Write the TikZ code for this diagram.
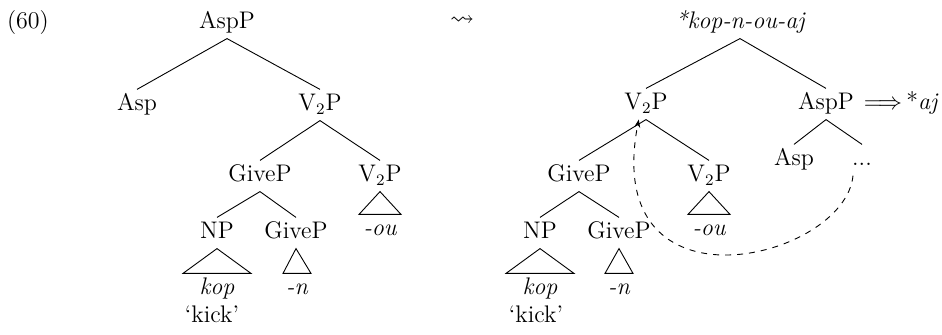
\documentclass[tikz,border=0pt]{standalone}
\usepackage{amssymb}
\usetikzlibrary{arrows.meta,positioning,calc}

\begin{document}
\begin{tikzpicture}[x=0.5pt,y=-0.5pt,
  cat/.style={inner sep=0pt,outer sep=2.5pt,text height=8.2pt,text depth=2.4pt,font=\fontsize{12}{14}\selectfont},
  lf/.style={cat,font=\fontsize{12}{14}\selectfont\itshape},
  br/.style={line width=0.45pt},
  mv/.style={dashed,line width=0.45pt,-{Stealth[length=4pt,width=3pt]}},
]
  \useasboundingbox (0,0) rectangle (942,335);
  \node[cat,anchor=west] (exno) at (2,23) {(60)};
  \node[cat] (leadsto) at (462,20) {$\rightsquigarrow$};
  % left tree
  \node[cat] (lroot)  at (227,23)  {AspP};
  \node[cat] (lasp)   at (137,105) {Asp};
  \node[cat] (lvp)    at (320,105) {V$_2$P};
  \node[cat] (lgive)  at (260,176) {GiveP};
  \node[cat] (lvpb)   at (380,176) {V$_2$P};
  \node[cat] (lnp)    at (217,233) {NP};
  \node[cat] (lgiveb) at (296,233) {GiveP};
  \node[lf]  (lou)    at (380,230) {-ou};
  \node[lf]  (lkop)   at (217,289) {kop};
  \node[lf]  (ln)     at (297,289) {-n};
  \node[cat] (lgl)    at (212,317) {`kick'};
  % right tree
  \node[lf]  (rroot)  at (740,23)  {*kop-n-ou-aj};
  \node[cat] (rvp)    at (646,104) {V$_2$P};
  \node[cat] (rasp)   at (826,104) {AspP};
  \node[cat,right=0pt of rasp] (raj) {$\Longrightarrow$\,*\textit{aj}};
  \node[cat] (rasph)  at (794,160) {Asp};
  \node[cat] (rdots)  at (862,160) {...};
  \node[cat] (rgive)  at (579,176) {GiveP};
  \node[cat] (rvpb)   at (709,176) {V$_2$P};
  \node[cat] (rnp)    at (540,233) {NP};
  \node[cat] (rgiveb) at (619,233) {GiveP};
  \node[lf]  (rou)    at (709,230) {-ou};
  \node[lf]  (rkop)   at (540,289) {kop};
  \node[lf]  (rn)     at (619,289) {-n};
  \node[cat] (rgl)    at (536,317) {`kick'};
  % branches
  \foreach \a/\b in {lroot/lasp,lroot/lvp,lvp/lgive,lvp/lvpb,lgive/lnp,lgive/lgiveb,
                     rroot/rvp,rroot/rasp,rasp/rasph,rasp/rdots,rvp/rgive,rvp/rvpb,rgive/rnp,rgive/rgiveb}
    \draw[br] (\a.south) -- (\b.north);
  % triangles
  \foreach \t/\l/\w in {lnp/lkop/34,lgiveb/ln/14,lvpb/lou/21,rnp/rkop/34,rgiveb/rn/14,rvpb/rou/21}
    \draw[br] (\t.south) -- ($(\l.north)+(-\w,0)$) -- ($(\l.north)+(\w,0)$) -- cycle;
  % movement
  \draw[mv] (rdots.-120) .. controls (845,260) and (600,320) .. (rvp.-115);
\end{tikzpicture}
\end{document}
